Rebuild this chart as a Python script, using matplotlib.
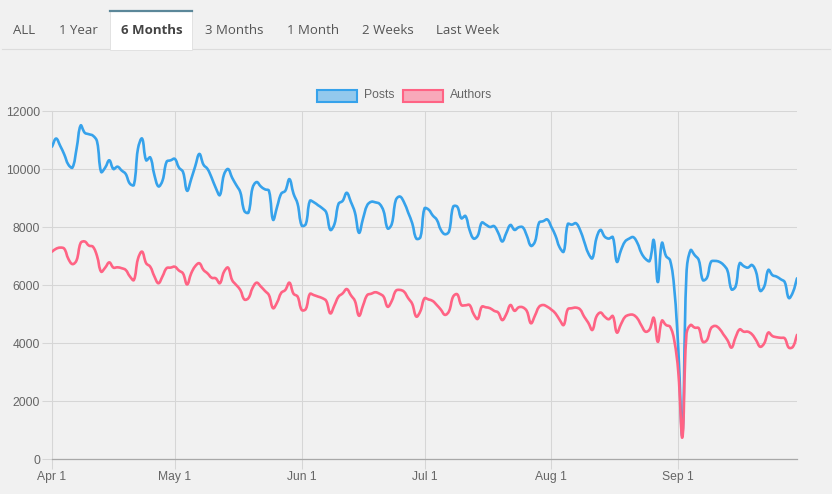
import numpy as np
import pandas as pd
import matplotlib
matplotlib.use("Agg")
import matplotlib.pyplot as plt
import matplotlib.dates as mdates
from matplotlib.path import Path
from matplotlib.patches import PathPatch, Rectangle
from matplotlib.lines import Line2D

# daily values, Apr 1 .. Sep 30
posts = [
    10770, 11050, 10800, 10500, 10150, 10050, 10700, 11500, 11250, 11200,
    11150, 10950, 9900, 10050, 10300, 10000, 10080, 9950, 9830, 9500,
    9450, 10700, 11050, 10300, 10400, 9800, 9400, 9600, 10250, 10300,
    10350, 10050, 9900, 9250, 9650, 10100, 10520, 10150, 10000, 9700,
    9350, 9100, 9800, 10000, 9700, 9450, 9200, 8550, 8500, 9350,
    9550, 9400, 9300, 9250, 8250, 8700, 9150, 9250, 9650, 9150,
    8800, 8050, 8100, 8900, 8850, 8750, 8650, 8500, 7900, 8100,
    8800, 8900, 9180, 8870, 8500, 7800, 8300, 8750, 8870, 8850,
    8800, 8550, 7950, 8100, 8930, 9050, 8850, 8500, 8130, 7600,
    7650, 8640, 8600, 8400, 8250, 7900, 7750, 7850, 8700, 8700,
    8300, 8380, 7900, 7600, 7700, 8150, 8080, 8000, 8030, 7800,
    7500, 7800, 8070, 7900, 7990, 7990, 7700, 7350, 7500, 8150,
    8200, 8260, 8000, 7700, 7300, 7150, 8100, 8080, 8130, 7900,
    7500, 7100, 6920, 7610, 7900, 7670, 7600, 7650, 6800, 7200,
    7500, 7600, 7650, 7450, 7100, 6900, 6830, 7550, 6100, 7450,
    7000, 6850, 5900, 3800, 850, 6400, 7200, 7030, 6860, 6170,
    6250, 6800, 6830, 6800, 6700, 6500, 5850, 5950, 6750, 6650,
    6600, 6690, 6450, 5800, 5950, 6520, 6340, 6290, 6200, 6100,
    5550, 5750, 6230,
]
authors = [
    7150, 7250, 7290, 7250, 6900, 6720, 6850, 7450, 7500, 7360,
    7320, 7000, 6460, 6600, 6780, 6600, 6610, 6580, 6520, 6300,
    6170, 6900, 7150, 6750, 6630, 6300, 6060, 6300, 6580, 6600,
    6630, 6500, 6400, 6020, 6400, 6650, 6750, 6520, 6400, 6250,
    6230, 6060, 6450, 6600, 6170, 6000, 5830, 5500, 5550, 5900,
    6080, 5950, 5800, 5650, 5200, 5400, 5730, 5830, 6080, 5700,
    5600, 5140, 5170, 5690, 5650, 5600, 5550, 5450, 5020, 5300,
    5600, 5710, 5860, 5650, 5450, 4940, 5300, 5650, 5700, 5750,
    5700, 5600, 5250, 5450, 5800, 5830, 5770, 5550, 5350, 4910,
    5100, 5540, 5500, 5450, 5310, 5150, 4970, 5100, 5600, 5680,
    5310, 5300, 5310, 5000, 4830, 5250, 5230, 5200, 5110, 5050,
    4790, 5000, 5310, 5110, 5230, 5230, 5100, 4680, 4950, 5250,
    5310, 5250, 5150, 5020, 4800, 4620, 5160, 5200, 5220, 5160,
    4910, 4700, 4450, 4910, 5050, 4910, 4820, 4930, 4360, 4650,
    4900, 4970, 4970, 4850, 4600, 4390, 4470, 4870, 4040, 4770,
    4620, 4560, 4100, 3000, 750, 4300, 4620, 4530, 4510, 4040,
    4100, 4510, 4590, 4500, 4300, 4100, 3840, 4200, 4470, 4390,
    4390, 4300, 4100, 3870, 3990, 4360, 4240, 4200, 4180, 4160,
    3840, 3870, 4280,
]
dates = pd.date_range("2018-04-01", periods=len(posts), freq="D")
tabs = ["ALL", "1 Year", "6 Months", "3 Months", "1 Month", "2 Weeks", "Last Week"]
tab_x = [13, 59, 121, 205, 287, 362, 436]
active_tab = "6 Months"
series_names = ["Posts", "Authors"]
series_colors = ["#36a2eb", "#ff6384"]

W, H = 832, 494
BG = "#f1f1f1"
GRID = "#d6d6d6"


def fx(x):
    return x / W


def fy(y):
    return 1 - y / H


def spline_path(x, y, sx, sy, tension=0.4, ymin=0, ymax=12000):
    # chart.js style bezier, distances measured in pixel space
    x = np.asarray(x, float)
    y = np.asarray(y, float)
    n = len(x)
    cp_prev = np.zeros((n, 2))
    cp_next = np.zeros((n, 2))
    for i in range(n):
        p = max(i - 1, 0)
        q = min(i + 1, n - 1)
        d01 = np.hypot((x[i] - x[p]) * sx, (y[i] - y[p]) * sy)
        d12 = np.hypot((x[q] - x[i]) * sx, (y[q] - y[i]) * sy)
        tot = d01 + d12
        s01 = d01 / tot if tot else 0
        s12 = d12 / tot if tot else 0
        fa, fb = tension * s01, tension * s12
        cp_prev[i] = (x[i] - fa * (x[q] - x[p]), y[i] - fa * (y[q] - y[p]))
        cp_next[i] = (x[i] + fb * (x[q] - x[p]), y[i] + fb * (y[q] - y[p]))
    cp_prev[:, 1] = np.clip(cp_prev[:, 1], ymin, ymax)
    cp_next[:, 1] = np.clip(cp_next[:, 1], ymin, ymax)
    verts = [(x[0], y[0])]
    codes = [Path.MOVETO]
    for i in range(1, n):
        verts += [tuple(cp_next[i - 1]), tuple(cp_prev[i]), (x[i], y[i])]
        codes += [Path.CURVE4] * 3
    return Path(verts, codes)


fig = plt.figure(figsize=(W / 100, H / 100), dpi=100, facecolor=BG)

# tab bar
fig.add_artist(Line2D([fx(2), fx(830)], [fy(49.5)] * 2, color="#dcdcdc", lw=0.8))
fig.add_artist(Rectangle((fx(110), fy(50)), fx(82), 40 / H, facecolor="white",
                         edgecolor="#e2e2e2", lw=0.7, zorder=2))
fig.add_artist(Line2D([fx(110), fx(192)], [fy(11)] * 2, color="#5b8799", lw=1.6, zorder=3))
for name, x in zip(tabs, tab_x):
    fig.text(fx(x), fy(30), name, ha="left", va="center", fontsize=9.5,
             family="Open Sans", color="#444" if name == active_tab else "#555",
             weight="bold" if name == active_tab else "normal", zorder=4)

# legend
leg_boxes = [317, 403]
leg_text = [364, 450]
for name, c, bx, tx in zip(series_names, series_colors, leg_boxes, leg_text):
    fig.add_artist(Rectangle((fx(bx), fy(102)), 40 / W, 12 / H, facecolor=c,
                             alpha=0.5, lw=0))
    fig.add_artist(Rectangle((fx(bx), fy(102)), 40 / W, 12 / H, facecolor="none",
                             edgecolor=c, lw=1.5))
    fig.text(fx(tx), fy(95.5), name, ha="left", va="center", fontsize=8.8,
             family="Liberation Sans", color="#666")

# chart
left, right, top, bottom = 52, 797, 111, 459
ax = fig.add_axes([fx(left), fy(bottom), (right - left) / W, (bottom - top) / H])
ax.set_facecolor("none")

xnum = mdates.date2num(dates)
sx = (right - left) / (xnum[-1] - xnum[0])
sy = (bottom - top) / 12000
for vals, c in zip([posts, authors], series_colors):
    ax.add_patch(PathPatch(spline_path(xnum, vals, sx, sy), facecolor="none",
                           edgecolor=c, lw=1.9, capstyle="round", joinstyle="round",
                           zorder=3))

ax.set_xlim(xnum[0], xnum[-1])
ax.set_ylim(0, 12000)
ax.set_yticks(range(0, 12001, 2000))
ax.xaxis.set_major_locator(mdates.MonthLocator())
ax.xaxis.set_major_formatter(mdates.DateFormatter("%b %-d"))
ax.grid(True, color=GRID, lw=0.75, zorder=0)
ax.tick_params(length=7, width=0.75, color=GRID, labelcolor="#666", labelsize=8.7, pad=1.5)
for lab in ax.get_xticklabels() + ax.get_yticklabels():
    lab.set_family("Liberation Sans")
for s in ["top", "right"]:
    ax.spines[s].set_visible(False)
ax.spines["left"].set_color(GRID)
ax.spines["left"].set_linewidth(0.75)
ax.spines["bottom"].set_color("#a8a8a8")
ax.spines["bottom"].set_linewidth(0.9)

fig.savefig("out.png", dpi=100, facecolor=BG)
